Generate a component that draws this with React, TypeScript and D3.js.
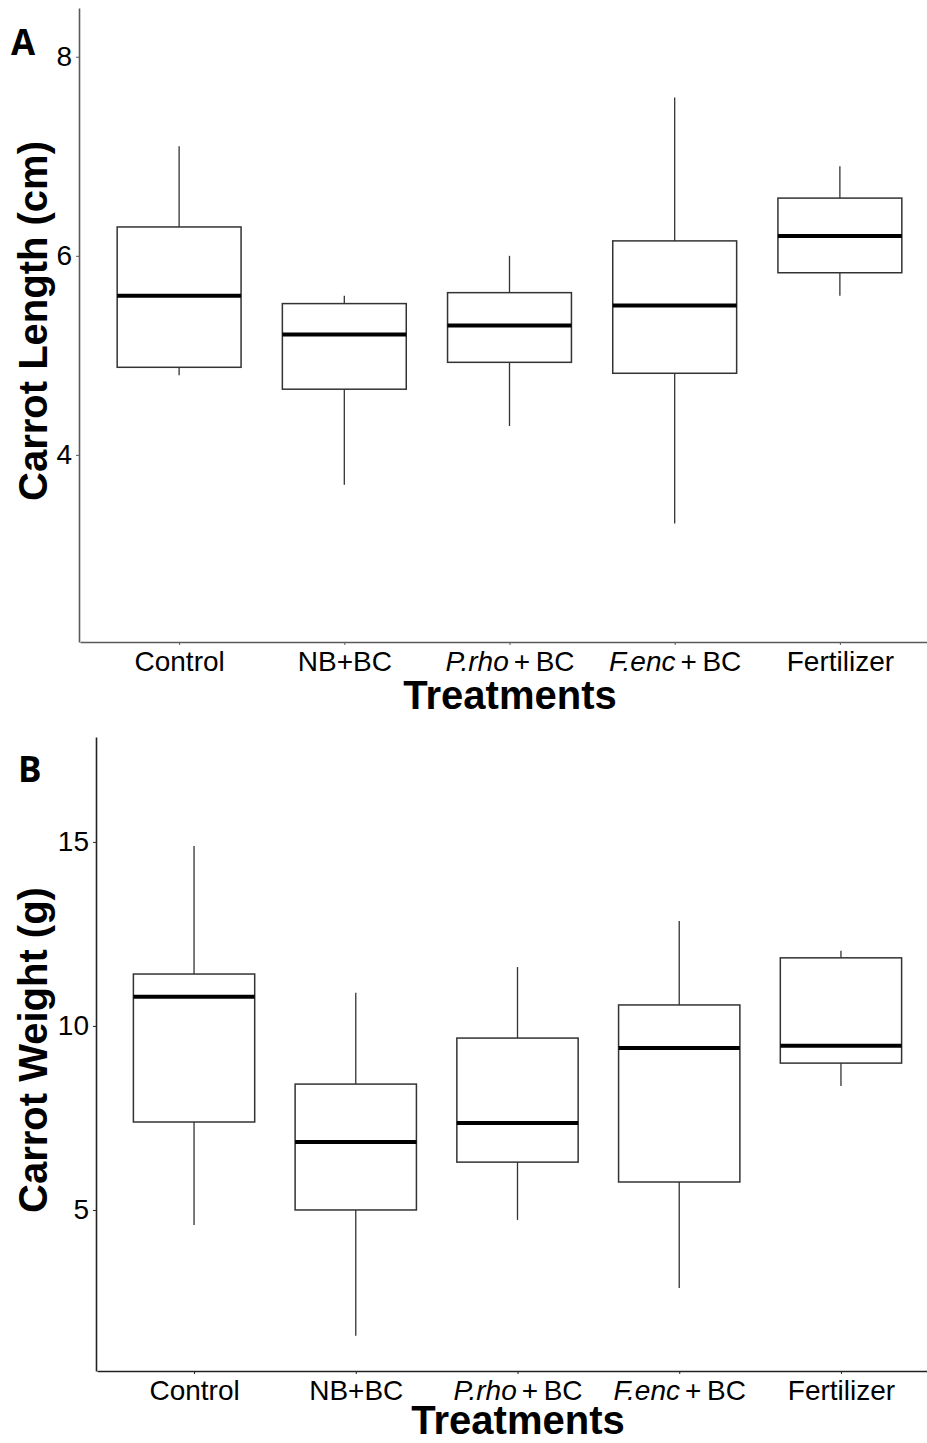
import React, { useEffect, useRef } from 'react';
import * as d3 from 'd3';

// treatments on the x axis
const treatments = ['Control', 'NB+BC', 'P.rho + BC', 'F.enc + BC', 'Fertilizer'];

// panel A: carrot length (cm)
const lengthMin = [4.8, 3.7, 4.29, 3.31, 5.6];
const lengthQ1 = [4.88, 4.66, 4.93, 4.82, 5.83];
const lengthMed = [5.6, 5.21, 5.3, 5.5, 6.2];
const lengthQ3 = [6.29, 5.52, 5.63, 6.15, 6.58];
const lengthMax = [7.1, 5.6, 6.0, 7.59, 6.9];
const lengthTicks = [4, 6, 8];

// panel B: carrot weight (g)
const weightMin = [4.59, 1.58, 4.73, 2.88, 8.37];
const weightQ1 = [7.39, 5.0, 6.3, 5.76, 8.99];
const weightMed = [10.79, 6.85, 7.36, 9.4, 9.46];
const weightQ3 = [11.41, 8.42, 9.67, 10.57, 11.85];
const weightMax = [14.89, 10.9, 11.6, 12.85, 12.04];
const weightTicks = [5, 10, 15];

const FONT = '"Liberation Sans", Arial, sans-serif';

const App = () => {
  const svgRef = useRef(null);

  const width = 927;
  const height = 1443;

  useEffect(() => {
    const svg = d3.select(svgRef.current);
    svg.selectAll('*').remove();

    const drawPanel = (cfg) => {
      const { left, top, bottom, right, yDomain, ticks, stats, yLabel, letter, letterPos, axisColor, xTitleY } = cfg;
      const g = svg.append('g');

      const x = d3.scalePoint().domain(treatments).range([left + 1, right]).padding(0.6);
      const y = d3.scaleLinear().domain(yDomain).range([bottom, top]);
      const boxW = x.step() * 0.75;

      const rows = treatments.map((t, i) => ({
        t,
        min: stats[0][i],
        q1: stats[1][i],
        med: stats[2][i],
        q3: stats[3][i],
        max: stats[4][i],
      }));

      // whiskers
      g.selectAll('.whisker-up')
        .data(rows)
        .enter()
        .append('line')
        .attr('x1', d => x(d.t))
        .attr('x2', d => x(d.t))
        .attr('y1', d => y(d.max))
        .attr('y2', d => y(d.q3))
        .attr('stroke', '#333')
        .attr('stroke-width', 1.3);
      g.selectAll('.whisker-down')
        .data(rows)
        .enter()
        .append('line')
        .attr('x1', d => x(d.t))
        .attr('x2', d => x(d.t))
        .attr('y1', d => y(d.q1))
        .attr('y2', d => y(d.min))
        .attr('stroke', '#333')
        .attr('stroke-width', 1.3);

      // boxes
      g.selectAll('.box')
        .data(rows)
        .enter()
        .append('rect')
        .attr('x', d => x(d.t) - boxW / 2)
        .attr('width', boxW)
        .attr('y', d => y(d.q3))
        .attr('height', d => y(d.q1) - y(d.q3))
        .attr('fill', 'white')
        .attr('stroke', '#333')
        .attr('stroke-width', 1.5);

      // medians
      g.selectAll('.median')
        .data(rows)
        .enter()
        .append('line')
        .attr('x1', d => x(d.t) - boxW / 2)
        .attr('x2', d => x(d.t) + boxW / 2)
        .attr('y1', d => y(d.med))
        .attr('y2', d => y(d.med))
        .attr('stroke', 'black')
        .attr('stroke-width', 4);

      // y axis
      const yAxis = g.append('g')
        .attr('transform', `translate(${left},0)`)
        .call(d3.axisLeft(y).tickValues(ticks).tickFormat(d3.format('d')).tickSize(3).tickPadding(4).tickSizeOuter(0));
      yAxis.select('.domain').attr('stroke', axisColor).attr('stroke-width', 1.6);
      yAxis.selectAll('.tick line').attr('stroke', axisColor);
      yAxis.selectAll('.tick text')
        .attr('font-family', FONT)
        .attr('font-size', 28)
        .attr('fill', 'black');

      // x axis
      const xAxis = g.append('g')
        .attr('transform', `translate(0,${bottom})`)
        .call(d3.axisBottom(x).tickSize(3).tickPadding(6).tickSizeOuter(0));
      xAxis.select('.domain').attr('stroke', axisColor).attr('stroke-width', 1.6);
      xAxis.selectAll('.tick line').attr('stroke', axisColor);
      xAxis.selectAll('.tick text')
        .attr('font-family', FONT)
        .attr('font-size', 28)
        .attr('fill', 'black')
        .each(function (d) {
          const parts = d.split(' + ');
          if (parts.length === 2) {
            const el = d3.select(this);
            el.text(null);
            el.append('tspan').attr('font-style', 'italic').text(parts[0]);
            el.append('tspan').attr('dx', 5).text('+\u2009' + parts[1]);
          }
        });

      // axis titles
      g.append('text')
        .attr('text-anchor', 'middle')
        .attr('font-family', FONT)
        .attr('font-weight', 'bold')
        .attr('font-size', 40)
        .attr('x', (left + right) / 2 + 1)
        .attr('y', xTitleY)
        .text('Treatments');

      g.append('text')
        .attr('text-anchor', 'middle')
        .attr('font-family', FONT)
        .attr('font-weight', 'bold')
        .attr('font-size', 40)
        .attr('transform', `translate(47,${(top + bottom) / 2 - 4}) rotate(-90)`)
        .text(yLabel);

      // panel letter
      g.append('text')
        .attr('font-family', '"Open Sans", sans-serif')
        .attr('font-weight', 'bold')
        .attr('font-size', 35)
        .attr('x', letterPos[0])
        .attr('y', letterPos[1])
        .text(letter);
    };

    drawPanel({
      left: 79,
      top: 8,
      bottom: 642,
      right: 939,
      yDomain: [2.12, 8.49],
      ticks: lengthTicks,
      stats: [lengthMin, lengthQ1, lengthMed, lengthQ3, lengthMax],
      yLabel: 'Carrot Length (cm)',
      letter: 'A',
      letterPos: [11, 55],
      axisColor: '#5a5a5a',
      xTitleY: 709,
    });

    drawPanel({
      left: 96,
      top: 737,
      bottom: 1371,
      right: 938,
      yDomain: [0.625, 17.85],
      ticks: weightTicks,
      stats: [weightMin, weightQ1, weightMed, weightQ3, weightMax],
      yLabel: 'Carrot Weight (g)',
      letter: 'B',
      letterPos: [18, 782],
      axisColor: '#222',
      xTitleY: 1434,
    });
  }, []);

  return (
    <svg
      ref={svgRef}
      width={width}
      height={height}
      style={{ position: 'absolute', left: 0, top: 0, background: 'white' }}
    ></svg>
  );
};

export default App;
